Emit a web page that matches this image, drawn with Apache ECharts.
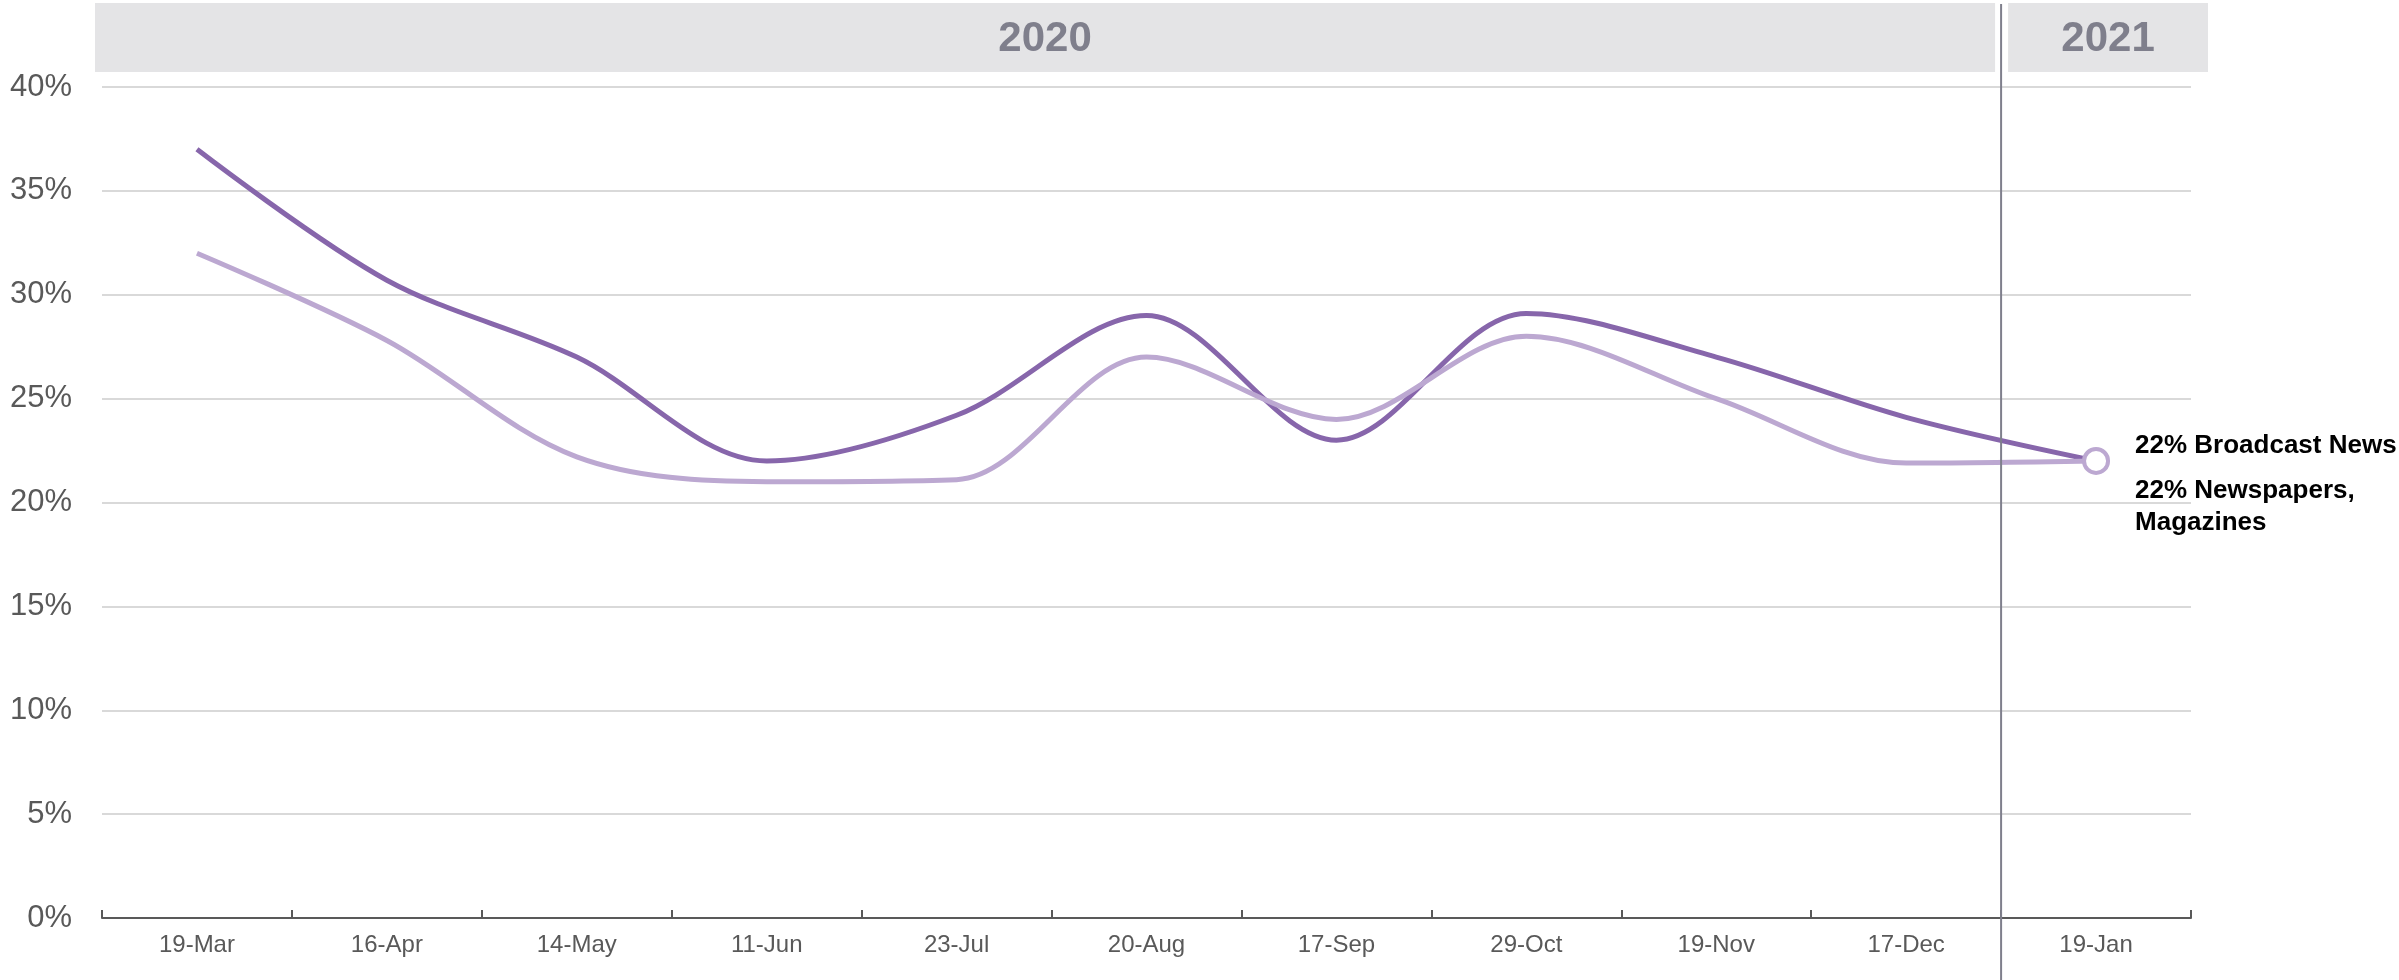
<!DOCTYPE html>
<html>
<head>
<meta charset="utf-8">
<script src="https://cdn.jsdelivr.net/npm/echarts@6/dist/echarts.min.js"></script>
<style>
    html, body { margin: 0; padding: 0; background: #fff; }
    #chart { width: 2399px; height: 980px; }
</style>
</head>
<body>
<div id="chart"></div>
<script>
// data
var categories = ['19-Mar', '16-Apr', '14-May', '11-Jun', '23-Jul', '20-Aug', '17-Sep', '29-Oct', '19-Nov', '17-Dec', '19-Jan'];
var broadcastNews = [37, 30.7, 27, 22, 24.2, 29, 23, 29.1, 27, 24.1, 22];
var newspapersMagazines = [32, 27.8, 22.2, 21, 21.1, 27, 24, 28, 25, 21.9, 22];
var yMax = 40;
var yStep = 5;
// year header: label + first/last category index
var yearNames = ['2020', '2021'];
var yearFrom = [0, 10];
var yearTo = [9, 10];
var endLabels = ['22% Broadcast News', '22% Newspapers,\nMagazines'];

var darkColor = '#8766ab';
var lightColor = '#bca8d1';
var fontFamily = '"Liberation Sans", Arial, sans-serif';

var chart = echarts.init(document.getElementById('chart'));

var lastIdx = categories.length - 1;
var lightData = newspapersMagazines.map(function (v, i) {
    if (i != lastIdx) return v;
    return {
        value: v,
        symbol: 'circle',
        symbolSize: 24,
        itemStyle: { color: '#fff', borderColor: lightColor, borderWidth: 4 }
    };
});

var option = {
    animation: false,
    grid: { left: 102, right: 208, top: 87, bottom: 62, containLabel: false },
    xAxis: {
        type: 'category',
        data: categories,
        boundaryGap: true,
        axisLine: { show: true, lineStyle: { color: '#595959', width: 2 } },
        axisTick: { show: true, interval: 0, inside: true, length: 8, lineStyle: { color: '#595959', width: 2 } },
        axisLabel: { color: '#595959', fontSize: 24, fontFamily: fontFamily, margin: 15 },
        splitLine: { show: false }
    },
    yAxis: {
        type: 'value',
        min: 0,
        max: yMax,
        interval: yStep,
        axisLine: { show: false },
        axisTick: { show: false },
        axisLabel: {
            color: '#595959', fontSize: 31, fontFamily: fontFamily, margin: 30,
            formatter: function (v) { return v + '%'; }
        },
        splitLine: { lineStyle: { color: '#d9d9d9', width: 2 } }
    },
    series: [
        {
            name: 'Broadcast News',
            type: 'line',
            data: broadcastNews,
            smooth: 0.33,
            showSymbol: false,
            symbol: 'none',
            lineStyle: { color: darkColor, width: 5 },
            itemStyle: { color: darkColor },
            z: 3
        },
        {
            name: 'Newspapers, Magazines',
            type: 'line',
            data: lightData,
            smooth: 0.33,
            symbol: 'none',
            showSymbol: true,
            lineStyle: { color: lightColor, width: 5 },
            itemStyle: { color: lightColor },
            z: 4
        }
    ]
};
chart.setOption(option);

// header bands, divider and end labels placed through the axis scale
function catCenter(i) {
    return chart.convertToPixel({ xAxisIndex: 0 }, i);
}
var step = catCenter(1) - catCenter(0);
var gridLeft = catCenter(0) - step / 2;
var gridRight = catCenter(lastIdx) + step / 2;
var divider = catCenter(yearTo[0]) + step / 2;

var graphics = [];
for (var k = 0; k < yearNames.length; k++) {
    var x0 = k == 0 ? gridLeft - 7 : catCenter(yearFrom[k]) - step / 2 + 7;
    var x1 = k == yearNames.length - 1 ? gridRight + 17 : catCenter(yearTo[k]) + step / 2 - 6;
    graphics.push({
        type: 'rect',
        shape: { x: x0, y: 3, width: x1 - x0, height: 69 },
        style: { fill: '#e4e4e6' },
        z: 1
    });
    graphics.push({
        type: 'text',
        x: (x0 + x1) / 2,
        y: 39,
        style: {
            text: yearNames[k],
            font: 'bold 42px ' + fontFamily,
            fill: '#7f7f8c',
            align: 'center', verticalAlign: 'middle',
            textAlign: 'center', textVerticalAlign: 'middle'
        },
        z: 2
    });
}
graphics.push({
    type: 'line',
    shape: { x1: divider, y1: 4, x2: divider, y2: 980 },
    style: { stroke: '#7f7f8c', lineWidth: 2 },
    z: 10
});

var endPt = chart.convertToPixel({ seriesIndex: 0 }, [lastIdx, broadcastNews[lastIdx]]);
var endPt2 = chart.convertToPixel({ seriesIndex: 1 }, [lastIdx, newspapersMagazines[lastIdx]]);
graphics.push({
    type: 'text',
    x: endPt[0] + 39,
    y: endPt[1] - 15,
    style: {
        text: endLabels[0],
        font: 'bold 26px ' + fontFamily,
        fill: '#000',
        align: 'left', verticalAlign: 'middle',
        textAlign: 'left', textVerticalAlign: 'middle'
    },
    z: 10
});
graphics.push({
    type: 'text',
    x: endPt2[0] + 39,
    y: endPt2[1] + 14,
    style: {
        text: endLabels[1],
        font: 'bold 26px ' + fontFamily,
        fill: '#000',
        lineHeight: 32,
        align: 'left', verticalAlign: 'top',
        textAlign: 'left', textVerticalAlign: 'top'
    },
    z: 10
});
chart.setOption({ graphic: graphics });
</script>
</body>
</html>
